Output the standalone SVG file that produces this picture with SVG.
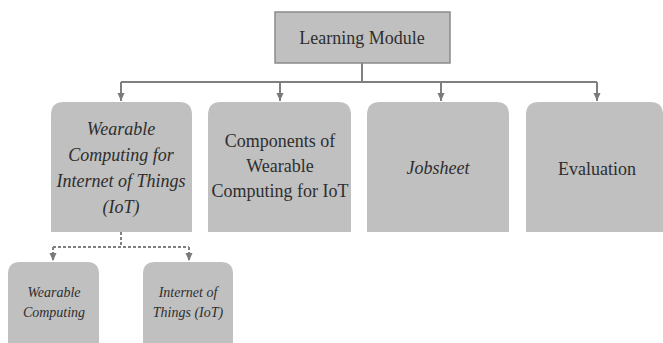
<svg xmlns="http://www.w3.org/2000/svg" width="663" height="343" viewBox="0 0 663 343">
<defs>
<marker id="ah" markerWidth="9" markerHeight="8" refX="8" refY="4" orient="auto" markerUnits="userSpaceOnUse" viewBox="0 0 9 8">
<path d="M0,0.5 L8,4 L0,7.5 Z" fill="#7a7a7a"/>
</marker>
<style>
.box{fill:#c0c0c0;}
.top{fill:#c0c0c0;stroke:#8a8a8a;stroke-width:1.5;}
.ln{fill:none;stroke:#7f7f7f;stroke-width:2;}
.dl{fill:none;stroke:#7f7f7f;stroke-width:2;stroke-dasharray:3,2;}
</style>
</defs>
<rect width="663" height="343" fill="#ffffff"/>
<g id="connectors">
<path class="ln" d="M362,63 V82"/>
<path class="ln" d="M121,82 H597"/>
<path class="ln" d="M121,82 V101" marker-end="url(#ah)"/>
<path class="ln" d="M280,82 V101" marker-end="url(#ah)"/>
<path class="ln" d="M441,82 V101" marker-end="url(#ah)"/>
<path class="ln" d="M597,82 V101" marker-end="url(#ah)"/>
<path class="dl" d="M121,232 V247"/>
<path class="dl" d="M53,247 H189"/>
<path class="dl" d="M53,247 V261" marker-end="url(#ah)"/>
<path class="dl" d="M189,247 V261" marker-end="url(#ah)"/>
</g>
<g id="learning-module">
<rect class="top" x="275" y="12" width="175" height="51"/>
<text style="font-family:'Liberation Serif',serif" font-size="18" fill="#2e2e2e" text-anchor="middle" x="362" y="44">Learning Module</text>
</g>
<g id="wearable-iot">
<path class="box" d="M51,232 V115 Q51,102 64,102 H179 Q192,102 192,115 V232 Z"/>
<text style="font-family:'Liberation Serif',serif" font-size="18" font-style="italic" fill="#2e2e2e" text-anchor="middle" x="121" y="135">Wearable</text>
<text style="font-family:'Liberation Serif',serif" font-size="18" font-style="italic" fill="#2e2e2e" text-anchor="middle" x="121" y="161">Computing for</text>
<text style="font-family:'Liberation Serif',serif" font-size="18" font-style="italic" fill="#2e2e2e" text-anchor="middle" x="121" y="187">Internet of Things</text>
<text style="font-family:'Liberation Serif',serif" font-size="18" font-style="italic" fill="#2e2e2e" text-anchor="middle" x="121" y="213">(IoT)</text>
</g>
<g id="components">
<path class="box" d="M208,232 V115 Q208,102 221,102 H338 Q351,102 351,115 V232 Z"/>
<text style="font-family:'Liberation Serif',serif" font-size="18" fill="#2e2e2e" text-anchor="middle" x="280" y="147">Components of</text>
<text style="font-family:'Liberation Serif',serif" font-size="18" fill="#2e2e2e" text-anchor="middle" x="280" y="172">Wearable</text>
<text style="font-family:'Liberation Serif',serif" font-size="18" fill="#2e2e2e" text-anchor="middle" x="280" y="197">Computing for IoT</text>
</g>
<g id="jobsheet">
<path class="box" d="M367,232 V115 Q367,102 380,102 H496 Q509,102 509,115 V232 Z"/>
<text style="font-family:'Liberation Serif',serif" font-size="18" font-style="italic" fill="#2e2e2e" text-anchor="middle" x="438" y="174">Jobsheet</text>
</g>
<g id="evaluation">
<path class="box" d="M526,232 V115 Q526,102 539,102 H650 Q663,102 663,115 V232 Z"/>
<text style="font-family:'Liberation Serif',serif" font-size="18" fill="#2e2e2e" text-anchor="middle" x="597" y="175">Evaluation</text>
</g>
<g id="wearable-computing">
<path class="box" d="M8,343 V274 Q8,262 20,262 H87 Q99,262 99,274 V343 Z"/>
<text style="font-family:'Liberation Serif',serif" font-size="14" font-style="italic" fill="#2e2e2e" text-anchor="middle" x="54" y="297">Wearable</text>
<text style="font-family:'Liberation Serif',serif" font-size="14" font-style="italic" fill="#2e2e2e" text-anchor="middle" x="54" y="317">Computing</text>
</g>
<g id="internet-of-things">
<path class="box" d="M143,343 V274 Q143,262 155,262 H221 Q233,262 233,274 V343 Z"/>
<text style="font-family:'Liberation Serif',serif" font-size="14" font-style="italic" fill="#2e2e2e" text-anchor="middle" x="188" y="297">Internet of</text>
<text style="font-family:'Liberation Serif',serif" font-size="14" font-style="italic" fill="#2e2e2e" text-anchor="middle" x="188" y="317">Things (IoT)</text>
</g>
</svg>
